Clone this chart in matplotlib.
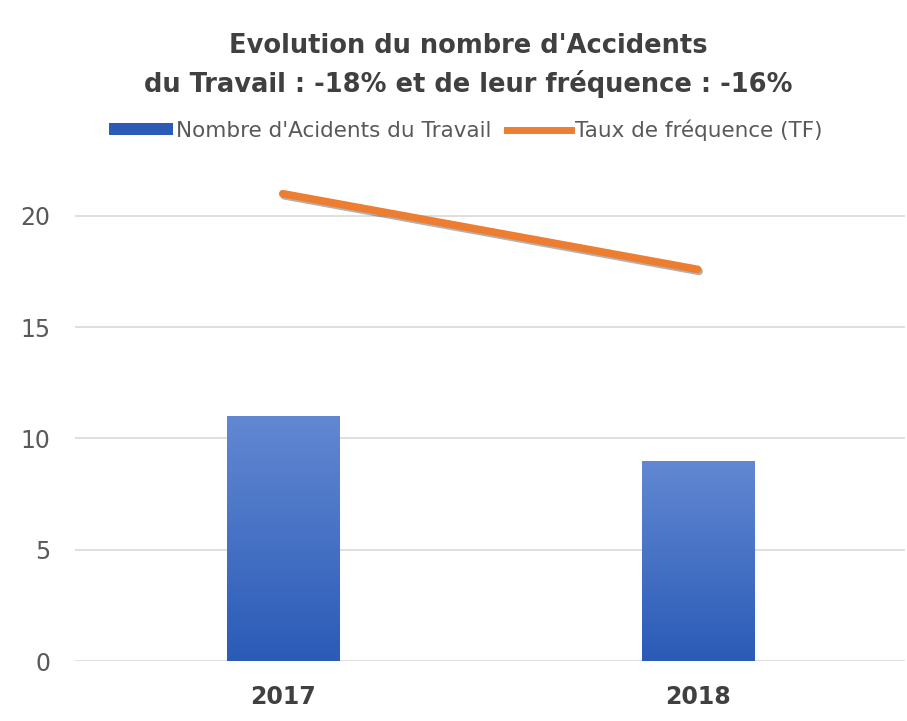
import matplotlib.pyplot as plt
import matplotlib.patheffects as pe
import numpy as np
from matplotlib.colors import LinearSegmentedColormap
from matplotlib.lines import Line2D
from matplotlib.patches import Patch

plt.rcParams["font.family"] = ["DejaVu Sans"]

# données
annees = ["2017", "2018"]
nb_accidents = [11, 9]
taux_frequence = [21.0, 17.6]

titre = "Evolution du nombre d'Accidents\ndu Travail : -18% et de leur fréquence : -16%"
label_barres = "Nombre d'Acidents du Travail"
label_ligne = "Taux de fréquence (TF)"

BLEU_HAUT = "#6288d2"
BLEU_BAS = "#2b5bb7"
ORANGE = "#ed7d31"
GRIS_TEXTE = "#404040"
GRIS_AXE = "#595959"

fig = plt.figure(figsize=(9.07, 7.21), dpi=100)
ax = fig.add_axes([0.083, 0.0832, 0.915, 0.679])

x = np.arange(len(annees))
barres = ax.bar(x, nb_accidents, width=0.27, color="none", zorder=2)

# dégradé vertical dans chaque barre
cmap = LinearSegmentedColormap.from_list("bleu", [BLEU_BAS, BLEU_HAUT])
grad = np.linspace(0, 1, 256).reshape(-1, 1)
for b in barres:
    x0, y0 = b.get_x(), b.get_y()
    w, h = b.get_width(), b.get_height()
    im = ax.imshow(grad, cmap=cmap, aspect="auto", origin="lower",
                   extent=[x0, x0 + w, y0, y0 + h], zorder=2)
    im.set_clip_path(b)

ax.plot(x, taux_frequence, color=ORANGE, linewidth=5.5, solid_capstyle="round",
        zorder=3,
        path_effects=[pe.SimpleLineShadow(offset=(1, -1.5), alpha=0.3), pe.Normal()])

ax.set_xlim(-0.5, 1.5)
ax.set_ylim(0, 22)
ax.set_yticks([0, 5, 10, 15, 20])
ax.set_xticks(x)
ax.set_xticklabels(annees, fontsize=17, fontweight="bold", color=GRIS_TEXTE)
ax.tick_params(axis="y", length=0, pad=18, labelsize=17, labelcolor=GRIS_AXE)
ax.tick_params(axis="x", length=0, pad=17)
ax.grid(axis="y", color="#d9d9d9", linewidth=1.2, zorder=0)
ax.set_axisbelow(True)
for s in ax.spines.values():
    s.set_visible(False)

fig.text(0.516, 0.909, titre, ha="center", va="center", fontsize=18.5,
         fontweight="bold", color=GRIS_TEXTE, linespacing=1.5)

handles = [
    Patch(facecolor=BLEU_BAS, edgecolor="none"),
    Line2D([0], [0], color=ORANGE, linewidth=5),
]
fig.legend(handles, [label_barres, label_ligne], loc="center",
           bbox_to_anchor=(0.513, 0.82), ncol=2, frameon=False, fontsize=15.5,
           handlelength=3.0, handleheight=0.5, handletextpad=0.15,
           columnspacing=0.7, labelcolor=GRIS_AXE)

fig.savefig("out.png", dpi=100)
